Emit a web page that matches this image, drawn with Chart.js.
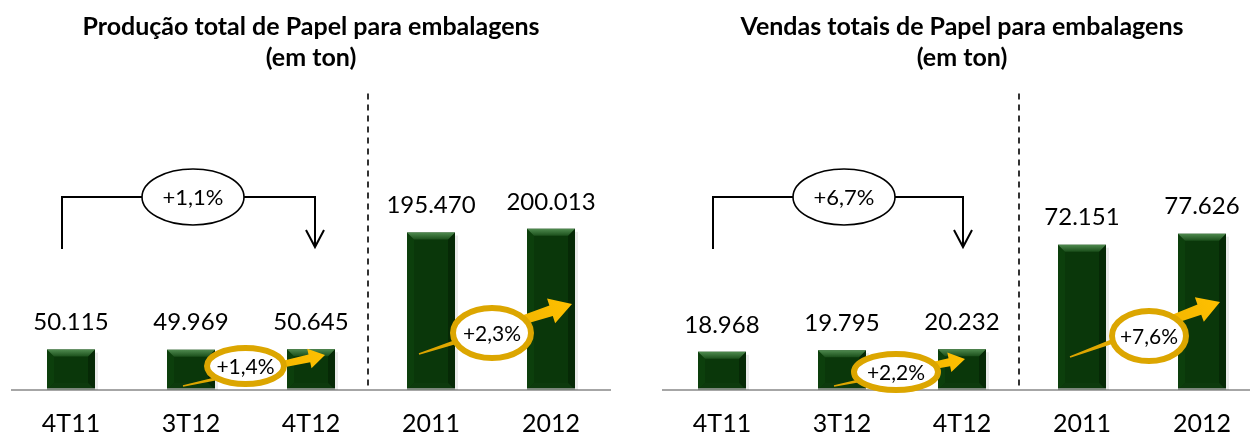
<!DOCTYPE html>
<html><head><meta charset="utf-8">
<script src="https://cdn.jsdelivr.net/npm/chart.js@4/dist/chart.umd.min.js"></script>
<style>
html,body{margin:0;padding:0;background:#fff;overflow:hidden;width:1250px;height:432px;}
#wrap{position:relative;width:1250px;height:432px;overflow:hidden;background:#fff;}
.box{position:absolute;top:0;}
#b1{left:0;} #b2{left:625px;}
</style></head><body>
<div id="wrap"><div class="box" id="b1"><canvas id="c1" width="625" height="458"></canvas></div><div class="box" id="b2"><canvas id="c2" width="640" height="458"></canvas></div></div>
<script>
// ---- data ----
const categories = ['4T11', '3T12', '4T12', '2011', '2012'];
const productionValues = [50115, 49969, 50645, 195470, 200013];
const salesValues = [18968, 19795, 20232, 72151, 77626];
const productionTitle = ['Produção total de Papel para embalagens', '(em ton)'];
const salesTitle = ['Vendas totais de Papel para embalagens', '(em ton)'];
const quarterVsYearAgo = ['+1,1%', '+6,7%'];
const quarterVsPrevQuarter = ['+1,4%', '+2,2%'];
const yearVsYear = ['+2,3%', '+7,6%'];

const FONT = "Lato, Carlito, 'Open Sans', sans-serif";
function fmt(v) { return String(v).replace(/\B(?=(\d{3})+(?!\d))/g, '.'); }

// ---- plugins ----
const baselinePlugin = {
  id: 'baseline',
  beforeDatasetsDraw(chart) {
    const {ctx, chartArea} = chart;
    const base = chart.scales.y.getPixelForValue(0);
    ctx.save();
    ctx.strokeStyle = '#a6a6a6'; ctx.lineWidth = 2;
    ctx.beginPath(); ctx.moveTo(chartArea.left, base); ctx.lineTo(chartArea.right, base); ctx.stroke();
    ctx.restore();
  }
};

const bevelPlugin = {
  id: 'bevel',
  afterDatasetsDraw(chart) {
    const {ctx} = chart;
    const meta = chart.getDatasetMeta(0);
    ctx.save();
    meta.data.forEach(el => {
      const {x, y, base, width} = el.getProps(['x', 'y', 'base', 'width'], true);
      const l = x - width / 2, r = x + width / 2, b = 7;
      ctx.fillStyle = 'rgba(0,0,0,0.08)';
      ctx.fillRect(r, y + 3, 3, base - y - 3);
      ctx.fillStyle = '#0c3f0c';
      ctx.beginPath(); ctx.moveTo(l, y); ctx.lineTo(l + b, y + b); ctx.lineTo(l + b, base - b); ctx.lineTo(l, base); ctx.closePath(); ctx.fill();
      ctx.fillStyle = '#062906';
      ctx.beginPath(); ctx.moveTo(r, y); ctx.lineTo(r - b, y + b); ctx.lineTo(r - b, base - b); ctx.lineTo(r, base); ctx.closePath(); ctx.fill();
      ctx.fillStyle = '#0d3a0d';
      ctx.beginPath(); ctx.moveTo(l, base); ctx.lineTo(l + b, base - b); ctx.lineTo(r - b, base - b); ctx.lineTo(r, base); ctx.closePath(); ctx.fill();
      const g = ctx.createLinearGradient(0, y, 0, y + b);
      g.addColorStop(0, '#4f8a4f'); g.addColorStop(1, '#1b4f1b');
      ctx.fillStyle = g;
      ctx.beginPath(); ctx.moveTo(l, y); ctx.lineTo(r, y); ctx.lineTo(r - b, y + b); ctx.lineTo(l + b, y + b); ctx.closePath(); ctx.fill();
      ctx.fillStyle = '#7d877d';
      ctx.fillRect(l, base - 2, width, 2);
    });
    ctx.restore();
  }
};

const valueLabelPlugin = {
  id: 'valueLabels',
  afterDatasetsDraw(chart) {
    const {ctx} = chart;
    const ds = chart.data.datasets[0];
    ctx.save();
    ctx.font = '24px ' + FONT; ctx.fillStyle = '#000';
    ctx.textAlign = 'center'; ctx.textBaseline = 'middle';
    chart.getDatasetMeta(0).data.forEach((el, i) => {
      ctx.fillText(fmt(ds.data[i]), el.x, el.y - 27);
    });
    ctx.restore();
  }
};

function goldArrow(ctx, tx, ty, px, py, headL, headW, shaftW) {
  const dx = px - tx, dy = py - ty, len = Math.hypot(dx, dy);
  const ux = dx / len, uy = dy / len, nx = -uy, ny = ux;
  const bx = px - ux * headL, by = py - uy * headL;
  const g = ctx.createLinearGradient(tx, ty, px, py);
  g.addColorStop(0, '#d9a200'); g.addColorStop(1, '#ffc000');
  ctx.fillStyle = g;
  ctx.beginPath();
  ctx.moveTo(tx + nx * 0.8, ty + ny * 0.8);
  ctx.lineTo(bx + nx * shaftW, by + ny * shaftW);
  ctx.lineTo(bx + nx * headW, by + ny * headW);
  ctx.lineTo(px, py);
  ctx.lineTo(bx - nx * headW, by - ny * headW);
  ctx.lineTo(bx - nx * shaftW, by - ny * shaftW);
  ctx.lineTo(tx - nx * 0.8, ty - ny * 0.8);
  ctx.closePath(); ctx.fill();
}
function bubble(ctx, cx, cy, rx, ry, text, stroke, lw, size) {
  ctx.beginPath(); ctx.ellipse(cx, cy, rx, ry, 0, 0, Math.PI * 2);
  ctx.fillStyle = '#fff'; ctx.fill();
  ctx.strokeStyle = stroke; ctx.lineWidth = lw; ctx.stroke();
  ctx.fillStyle = '#000'; ctx.font = size + 'px ' + FONT;
  ctx.textAlign = 'center'; ctx.textBaseline = 'middle';
  ctx.fillText(text, cx, cy + 1);
}

const annotationPlugin = {
  id: 'growthNotes',
  afterDraw(chart, args, o) {
    const {ctx, chartArea} = chart;
    const xs = chart.scales.x, base = chart.scales.y.getPixelForValue(0);
    const cx = i => xs.getPixelForValue(i);
    ctx.save();
    const sx = (cx(2) + cx(3)) / 2 - 3;
    ctx.strokeStyle = '#000'; ctx.lineWidth = 1.6; ctx.setLineDash([6, 5]);
    ctx.beginPath(); ctx.moveTo(sx, chartArea.top); ctx.lineTo(sx, base - 4); ctx.stroke();
    ctx.setLineDash([]);
    const x0 = cx(0) - 9, x1 = cx(2) + o.bracketDx, yb = base - 193, tip = base - 143;
    ctx.lineWidth = 2;
    ctx.beginPath(); ctx.moveTo(x0, base - 141); ctx.lineTo(x0, yb); ctx.lineTo(x1, yb); ctx.lineTo(x1, tip); ctx.stroke();
    ctx.beginPath(); ctx.moveTo(x1 - 9, tip - 17); ctx.lineTo(x1, tip); ctx.lineTo(x1 + 9, tip - 17); ctx.stroke();
    bubble(ctx, (cx(0) + cx(2)) / 2 + 2, yb, 51, 28, o.bracketText, '#000', 1.6, 22);
    const q = o.q;
    goldArrow(ctx, cx(1) - 8, base - 4, cx(2) + q.tipDx, base - q.tipDy, 16, 10, 4);
    bubble(ctx, (cx(1) + cx(2)) / 2 + q.cDx, base - q.cDy, q.rx, 18, o.qText, '#dca600', 6, 21);
    const a = o.a;
    goldArrow(ctx, cx(3) - 12, base - a.tailDy, cx(4) + a.tipDx, base - a.tipDy, 22, 13, 5.5);
    bubble(ctx, (cx(3) + cx(4)) / 2 + a.cDx, base - a.cDy, a.rx, 25, o.aText, '#dca600', 6, 21);
    ctx.restore();
  }
};

function makeChart(id, values, title, maxV, padL, padR, notes) {
  return new Chart(document.getElementById(id), {
    type: 'bar',
    data: {
      labels: categories,
      datasets: [{ data: values, backgroundColor: '#0a370a', borderWidth: 0,
        barPercentage: 0.8, categoryPercentage: 0.5 }]
    },
    options: {
      responsive: false, animation: false, devicePixelRatio: 1,
      layout: { padding: { left: padL, right: padR, top: 0, bottom: 0 } },
      plugins: {
        legend: { display: false }, tooltip: { enabled: false },
        title: { display: true, text: title, color: '#000',
          font: { family: FONT, size: 25, weight: 'bold', lineHeight: 31 / 25 },
          padding: { top: 11.5, bottom: 20 } },
        growthNotes: notes
      },
      scales: {
        x: { grid: { display: false, drawTicks: false }, border: { display: false },
          ticks: { color: '#000', padding: 19, font: { family: FONT, size: 25 } } },
        y: { display: false, min: 0, max: maxV }
      }
    },
    plugins: [baselinePlugin, bevelPlugin, valueLabelPlugin, annotationPlugin]
  });
}

makeChart('c1', productionValues, productionTitle, 368000, 11, 14, {
  bracketText: quarterVsYearAgo[0], bracketDx: 4,
  qText: quarterVsPrevQuarter[0], q: { tipDx: 14, tipDy: 35, cDx: -5.5, cDy: 24, rx: 38.5 },
  aText: yearVsYear[0], a: { tailDy: 36, tipDx: 21, tipDy: 86, cDx: 1, cDy: 57, rx: 39 }
});
makeChart('c2', salesValues, salesTitle, 147200, 37, 3, {
  bracketText: quarterVsYearAgo[1], bracketDx: 1,
  qText: quarterVsPrevQuarter[1], q: { tipDx: 3, tipDy: 31, cDx: -6, cDy: 18, rx: 42 },
  aText: yearVsYear[1], a: { tailDy: 33, tipDx: 18, tipDy: 88, cDx: 7, cDy: 54, rx: 37 }
});
</script>
</body></html>
